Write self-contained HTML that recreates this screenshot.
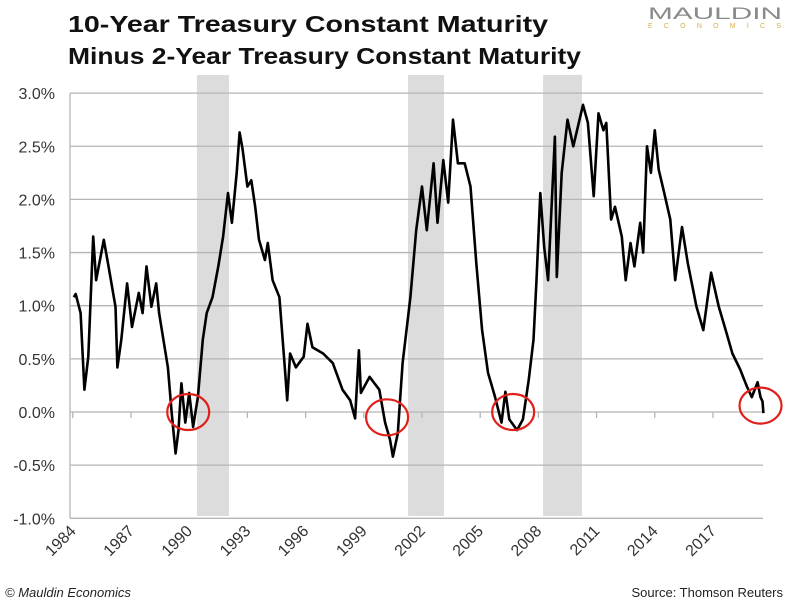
<!DOCTYPE html>
<html><head><meta charset="utf-8"><style>
html,body{margin:0;padding:0;background:#fff;}
svg{display:block;font-family:"Liberation Sans",sans-serif;}
</style></head><body>
<svg id="chart" width="788" height="603" viewBox="0 0 788 603">
<text x="68" y="32" font-size="23" font-weight="bold" fill="#111" textLength="480" lengthAdjust="spacingAndGlyphs">10-Year Treasury Constant Maturity</text>
<text x="68" y="64" font-size="23" font-weight="bold" fill="#111" textLength="513" lengthAdjust="spacingAndGlyphs">Minus 2-Year Treasury Constant Maturity</text>
<text x="648" y="19" font-size="17" fill="#8a8a8a" textLength="134" lengthAdjust="spacingAndGlyphs">MAULDIN</text>
<text x="648" y="28" font-size="7" fill="#d4b04a" textLength="133" lengthAdjust="spacing">ECONOMICS</text>
<g id="bands"></g><g id="grid"></g><g id="axes"></g><g id="series"></g><g id="circles"></g>
<text x="5" y="597" font-size="13" font-style="italic" fill="#222">© Mauldin Economics</text>
<text x="783" y="597" font-size="13" fill="#222" text-anchor="end">Source: Thomson Reuters</text>
</svg>
<script>
const years=[1984.05,1984.15,1984.4,1984.6,1984.8,1985.05,1985.2,1985.6,1985.85,1986.2,1986.3,1986.5,1986.8,1987.05,1987.4,1987.6,1987.8,1988.05,1988.3,1988.45,1988.9,1989.1,1989.3,1989.45,1989.6,1989.8,1990.0,1990.2,1990.45,1990.7,1990.9,1991.2,1991.5,1991.75,1992.0,1992.2,1992.45,1992.6,1992.75,1993.0,1993.2,1993.4,1993.6,1993.9,1994.05,1994.3,1994.65,1994.95,1995.05,1995.2,1995.5,1995.9,1996.1,1996.35,1996.9,1997.4,1997.9,1998.3,1998.55,1998.75,1998.85,1999.3,1999.8,2000.1,2000.35,2000.5,2000.75,2001.0,2001.4,2001.7,2002.0,2002.25,2002.6,2002.8,2003.1,2003.35,2003.6,2003.85,2004.2,2004.5,2004.8,2005.1,2005.4,2005.75,2006.1,2006.3,2006.5,2006.9,2007.2,2007.5,2007.75,2007.9,2008.1,2008.3,2008.5,2008.85,2008.95,2009.2,2009.5,2009.8,2010.3,2010.55,2010.85,2011.1,2011.35,2011.5,2011.75,2011.95,2012.3,2012.5,2012.75,2012.95,2013.25,2013.4,2013.6,2013.8,2014.0,2014.2,2014.45,2014.8,2015.05,2015.4,2015.7,2016.15,2016.5,2016.9,2017.3,2017.7,2018.0,2018.4,2018.75,2019.0,2019.3,2019.45,2019.55,2019.6];
const spread=[1.08,1.11,0.93,0.21,0.52,1.65,1.24,1.62,1.36,0.99,0.42,0.68,1.21,0.80,1.12,0.93,1.37,0.99,1.21,0.93,0.42,-0.01,-0.39,-0.17,0.27,-0.10,0.18,-0.14,0.14,0.68,0.93,1.08,1.37,1.65,2.06,1.78,2.25,2.63,2.47,2.12,2.18,1.93,1.62,1.43,1.59,1.24,1.08,0.37,0.11,0.55,0.42,0.52,0.83,0.61,0.55,0.46,0.21,0.11,-0.06,0.58,0.18,0.33,0.21,-0.10,-0.26,-0.42,-0.20,0.46,1.08,1.71,2.12,1.71,2.34,1.78,2.37,1.97,2.75,2.34,2.34,2.12,1.40,0.77,0.37,0.15,-0.10,0.19,-0.07,-0.17,-0.07,0.30,0.68,1.24,2.06,1.55,1.24,2.59,1.27,2.25,2.75,2.50,2.89,2.72,2.03,2.81,2.65,2.72,1.81,1.93,1.65,1.24,1.59,1.37,1.78,1.50,2.50,2.25,2.65,2.28,2.09,1.81,1.24,1.74,1.40,0.99,0.77,1.31,0.99,0.74,0.55,0.40,0.24,0.14,0.28,0.14,0.10,-0.01];
const yTicks=[3.0,2.5,2.0,1.5,1.0,0.5,0.0,-0.5,-1.0];
const xTicks=[1984,1987,1990,1993,1996,1999,2002,2005,2008,2011,2014,2017];
const recessionStart=[1990.4,2001.28,2008.24];
const recessionEnd=[1992.05,2003.13,2010.25];
const inversionYears=[1989.95,2000.2,2006.7,2019.45];
const inversionValues=[0.0,-0.05,0.0,0.06];

const NS='http://www.w3.org/2000/svg';
const X0=72.8,PXY=19.4,Y0=412,PXV=106.3,L=70,R=763;
const xs=y=>X0+(y-1984)*PXY;
const ys=v=>Y0-v*PXV;
function mk(tag,attrs,parent){const e=document.createElementNS(NS,tag);for(const k in attrs)e.setAttribute(k,attrs[k]);parent.appendChild(e);return e;}
const bands=document.getElementById('bands'),grid=document.getElementById('grid'),axes=document.getElementById('axes'),series=document.getElementById('series'),circles=document.getElementById('circles');
recessionStart.forEach((s,i)=>{
  const r=mk('rect',{x:xs(s),y:75,width:xs(recessionEnd[i])-xs(s),height:441,fill:'#dcdcdc'},bands);
  
  
});
yTicks.forEach(v=>{
  const l=mk('line',{x1:L,x2:R,y1:ys(v),y2:ys(v),stroke:'#b5b5b5','stroke-width':1.3},grid);
  
  
  const t=mk('text',{x:55,y:ys(v)+6,'font-size':16,fill:'#333','text-anchor':'end'},axes);
  t.textContent=v.toFixed(1)+'%';
  
  
});
const ya=mk('line',{x1:L,x2:L,y1:ys(3.0),y2:ys(-1.0),stroke:'#b5b5b5','stroke-width':1.3},axes);


xTicks.forEach(y=>{
  const x=xs(y);
  const tk=mk('line',{x1:x,x2:x,y1:Y0,y2:Y0+6,stroke:'#b5b5b5','stroke-width':1.3},axes);
  
  
  const t=mk('text',{x:x+4,y:532,'font-size':16,fill:'#333','text-anchor':'end',transform:`rotate(-45 ${x+4} 532)`},axes);
  t.textContent=y;
  
  
});
const pts=years.map((y,i)=>xs(y).toFixed(1)+','+ys(spread[i]).toFixed(1)).join(' ');
const pl=mk('polyline',{points:pts,fill:'none',stroke:'#000','stroke-width':2.6,'stroke-linejoin':'round'},series);


inversionYears.forEach((y,i)=>{
  const c=mk('ellipse',{cx:xs(y),cy:ys(inversionValues[i]),rx:21,ry:18,fill:'none',stroke:'#e0201a','stroke-width':2.2},circles);
  
  
});
</script>
</body></html>
